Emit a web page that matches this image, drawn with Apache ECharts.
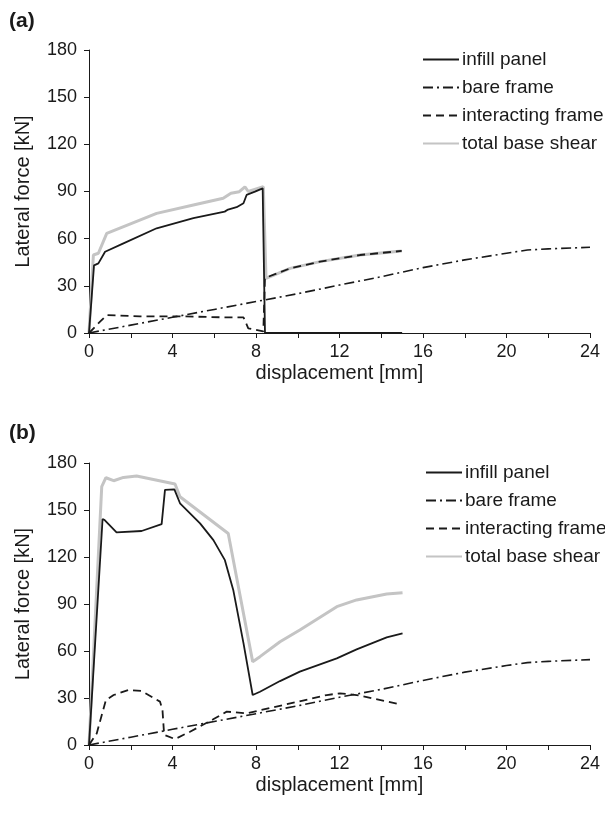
<!DOCTYPE html>
<html>
<head>
<meta charset="utf-8">
<script src="https://cdn.jsdelivr.net/npm/echarts@6/dist/echarts.min.js"></script>
<style>
    html, body {margin: 0; padding: 0; background: #fff;}
    #chart {width: 605px; height: 813px;}
</style>
</head>
<body>
<div id="chart"></div>
<script>
// series names
const names = ['infill panel', 'bare frame', 'interacting frame', 'total base shear'];

// x-axis ticks (labels only every 4 mm)
const xTicks = [0, 4, 8, 12, 16, 20, 24];

// (a) values, displacement [mm] / lateral force [kN]
const infillDispA = [0, 0.24, 0.45, 0.77, 1.65, 3.24, 5.0, 6.5, 6.66, 7.07, 7.4, 7.55, 7.95, 8.32, 8.43, 15.0];
const infillForceA = [0, 43, 44.3, 51.7, 57, 66.6, 73, 77.2, 78.5, 80, 82.5, 87.8, 89.9, 92, 0, 0];

const totalDispA = [0, 0.21, 0.45, 0.85, 3.24, 5.0, 6.43, 6.8, 7.2, 7.47, 7.63, 8.35, 8.48, 8.51, 9.63, 11.07, 12.98, 14.98];
const totalForceA = [0, 49.6, 50.7, 63.4, 76.1, 81.4, 85.7, 88.9, 89.9, 93, 90, 93, 34.8, 35.8, 41.1, 45.4, 49.6, 52.2];

const interDispA = [0, 0.53, 0.85, 2.44, 4.36, 6.28, 7.4, 7.63, 8.35, 8.43, 8.51, 9.63, 11.07, 12.98, 14.98];
const interForceA = [0, 7.2, 11.4, 10.6, 10.6, 10, 10, 3, 1, 35, 35.8, 41.1, 45.4, 49.6, 52.2];

const bareDispA = [0, 2, 4, 6, 8, 10, 12, 14, 16, 18, 20, 21, 22, 24];
const bareForceA = [0, 5, 10, 15, 20, 25, 30.5, 35.8, 41.6, 46.5, 50.7, 52.8, 53.5, 54.5];

// (b) values
const infillDispB = [0, 0.65, 0.75, 1.32, 2.52, 3.48, 3.64, 4.09, 4.36, 5.32, 5.96, 6.51, 6.91, 7.4, 7.84, 8.19, 9.15, 10.1, 11.87, 12.82, 14.26, 15.02];
const infillForceB = [0, 144.3, 143.6, 135.7, 136.6, 141, 162.8, 163.2, 154.3, 141.5, 130.8, 118, 99, 65, 31.9, 34, 40.8, 46.8, 55.3, 61, 68.7, 71.3];

const totalDispB = [0, 0.61, 0.81, 1.18, 1.65, 2.28, 4.12, 4.36, 6.67, 7.84, 8.19, 9.15, 10.1, 11.87, 12.82, 14.26, 15.02];
const totalForceB = [0, 164.9, 170.6, 168.7, 170.8, 171.7, 166.6, 158.5, 135, 53.2, 56.4, 65.9, 73.4, 88.3, 92.6, 96.4, 97.2];

const interDispB = [0, 0.37, 0.81, 1.18, 1.88, 2.52, 3.4, 3.52, 3.6, 4.12, 4.84, 5.95, 6.6, 7.55, 9.31, 11.39, 12.02, 12.82, 14.82];
const interForceB = [0, 7.4, 28.7, 31.9, 35.1, 34.5, 27.7, 22.3, 6.4, 3.8, 8.5, 16.4, 21.3, 20.2, 25.5, 31.9, 33, 31.9, 26.2];

const bareDispB = [0, 2, 4, 6, 8, 10, 12, 14, 16, 18, 20, 21, 22, 24];
const bareForceB = [0, 5, 10, 15, 20, 25, 30.5, 35.5, 41.2, 46.5, 50.7, 52.6, 53.4, 54.5];

const pairs = (xs, ys) => xs.map((x, i) => [x, ys[i]]);

const font = 'Liberation Sans, Arial, sans-serif';
const ink = '#1a1a1a';

const styles = {
    'infill panel': {color: ink, width: 1.8, type: 'solid'},
    'bare frame': {color: ink, width: 1.6, type: [10, 4, 2, 4]},
    'interacting frame': {color: ink, width: 1.8, type: [8, 5]},
    'total base shear': {color: '#c4c4c4', width: 3, type: 'solid'}
};

function line(name, idx, xs, ys, z) {
    return {
        name: name,
        type: 'line',
        xAxisIndex: idx,
        yAxisIndex: idx,
        data: pairs(xs, ys),
        symbol: 'none',
        z: z,
        color: styles[name].color,
        lineStyle: styles[name],
        animation: false
    };
}

function xAxis(idx) {
    return {
        type: 'value', gridIndex: idx, min: 0, max: 24, interval: 2,
        name: 'displacement [mm]', nameLocation: 'middle', nameGap: 30,
        nameTextStyle: {fontFamily: font, fontSize: 20, color: ink},
        axisLine: {lineStyle: {color: ink, width: 1}},
        axisTick: {length: 5, lineStyle: {color: ink}},
        axisLabel: {
            fontFamily: font, fontSize: 18, color: ink, margin: 10,
            formatter: v => xTicks.indexOf(v) >= 0 ? String(v) : ''
        },
        splitLine: {show: false}
    };
}

function yAxis(idx) {
    return {
        type: 'value', gridIndex: idx, min: 0, max: 180, interval: 30,
        name: 'Lateral force [kN]', nameLocation: 'middle', nameGap: 56,
        nameTextStyle: {fontFamily: font, fontSize: 20, color: ink},
        axisLine: {show: true, lineStyle: {color: ink, width: 1}},
        axisTick: {show: true, length: 5, lineStyle: {color: ink}},
        axisLabel: {fontFamily: font, fontSize: 18, color: ink, margin: 12},
        splitLine: {show: false}
    };
}

function legend(left, top) {
    return {
        data: names, orient: 'vertical', left: left, top: top,
        itemWidth: 36, itemHeight: 14, itemGap: 9, selectedMode: false,
        itemStyle: {opacity: 0},
        textStyle: {fontFamily: font, fontSize: 19, color: ink, padding: [0, 0, 0, -2]}
    };
}

const option = {
    backgroundColor: '#fff',
    animation: false,
    title: [
        {text: '(a)', left: 4, top: 6, textStyle: {fontFamily: font, fontSize: 21, fontWeight: 'bold', color: ink}},
        {text: '(b)', left: 4, top: 418, textStyle: {fontFamily: font, fontSize: 21, fontWeight: 'bold', color: ink}}
    ],
    grid: [
        {left: 89, right: 15, top: 50, height: 283},
        {left: 89, right: 15, top: 463, height: 282}
    ],
    xAxis: [xAxis(0), xAxis(1)],
    yAxis: [yAxis(0), yAxis(1)],
    legend: [legend(417, 45), legend(420, 458)],
    series: [
        line('total base shear', 0, totalDispA, totalForceA, 1),
        line('bare frame', 0, bareDispA, bareForceA, 2),
        line('interacting frame', 0, interDispA, interForceA, 3),
        line('infill panel', 0, infillDispA, infillForceA, 4),
        line('total base shear', 1, totalDispB, totalForceB, 1),
        line('bare frame', 1, bareDispB, bareForceB, 2),
        line('interacting frame', 1, interDispB, interForceB, 3),
        line('infill panel', 1, infillDispB, infillForceB, 4)
    ]
};

const myChart = echarts.init(document.getElementById('chart'));
myChart.setOption(option);
</script>
</body>
</html>
